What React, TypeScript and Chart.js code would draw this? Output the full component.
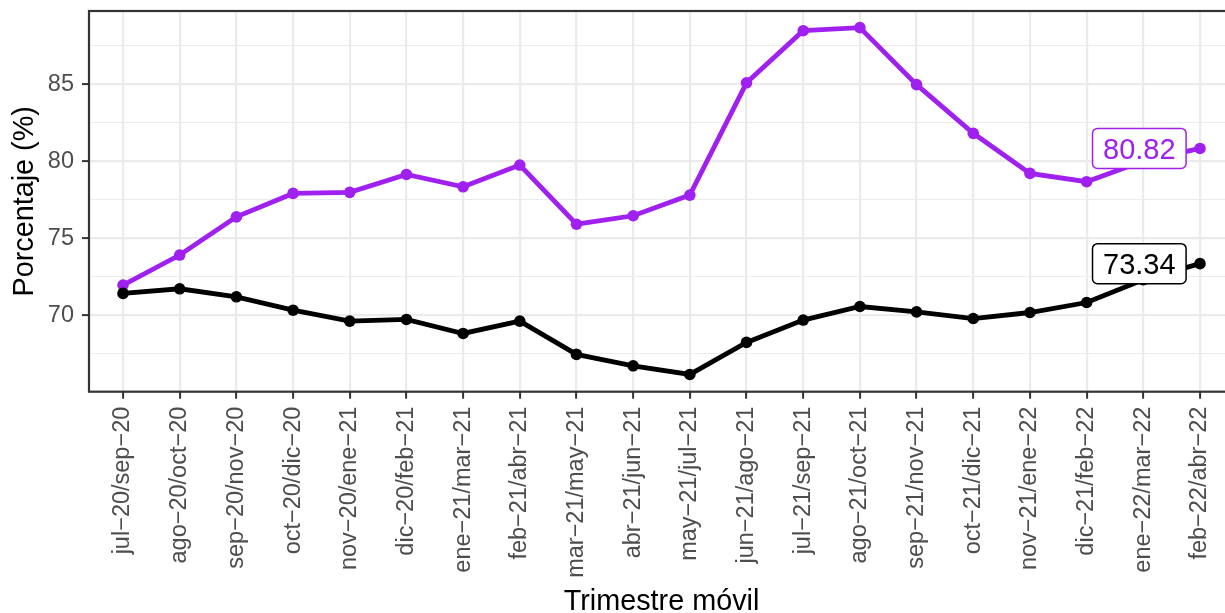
import { useEffect, useRef } from "react";
import { Chart, registerables } from "chart.js";

Chart.register(...registerables);

const categories = [
  "jul−20/sep−20",
  "ago−20/oct−20",
  "sep−20/nov−20",
  "oct−20/dic−20",
  "nov−20/ene−21",
  "dic−20/feb−21",
  "ene−21/mar−21",
  "feb−21/abr−21",
  "mar−21/may−21",
  "abr−21/jun−21",
  "may−21/jul−21",
  "jun−21/ago−21",
  "jul−21/sep−21",
  "ago−21/oct−21",
  "sep−21/nov−21",
  "oct−21/dic−21",
  "nov−21/ene−22",
  "dic−21/feb−22",
  "ene−22/mar−22",
  "feb−22/abr−22",
];

const blackValues = [
  71.41, 71.71, 71.19, 70.32, 69.61, 69.72, 68.81, 69.61, 67.45, 66.71,
  66.15, 68.23, 69.68, 70.56, 70.21, 69.78, 70.17, 70.82, 72.3, 73.34,
];

const purpleValues = [
  71.95, 73.9, 76.38, 77.9, 77.97, 79.13, 78.33, 79.74, 75.9, 76.45,
  77.79, 85.08, 88.46, 88.66, 84.96, 81.8, 79.2, 78.66, 80.0, 80.82,
];

const yTickValues = [67.5, 70, 72.5, 75, 77.5, 80, 82.5, 85, 87.5];

const FONT = "'Liberation Sans', Arial, Helvetica, sans-serif";
const PURPLE = "#A020F0";
const BLACK = "#000000";

const seriesForLabels = [blackValues, purpleValues];

const endLabels = {
  id: "endLabels",
  afterDatasetsDraw(chart: any) {
    const ctx = chart.ctx;
    const xs = chart.scales.x;
    const ys = chart.scales.y;
    const fs = 29;
    chart.data.datasets.forEach((ds: any, di: number) => {
      const arr = seriesForLabels[di];
      const v = arr[arr.length - 1];
      const text = v.toFixed(2);
      const cx = xs.getPixelForValue(arr.length - 2) - 4;
      const cy = ys.getPixelForValue(v);
      ctx.save();
      ctx.font = `${fs}px ${FONT}`;
      const tw = ctx.measureText(text).width;
      const w = tw + 21;
      const h = 40;
      ctx.beginPath();
      ctx.roundRect(cx - w / 2, cy - h / 2, w, h, 5);
      ctx.fillStyle = "#FFFFFF";
      ctx.fill();
      ctx.lineWidth = 1.5;
      ctx.strokeStyle = ds.borderColor;
      ctx.stroke();
      ctx.fillStyle = ds.borderColor;
      ctx.textAlign = "center";
      ctx.textBaseline = "alphabetic";
      ctx.fillText(text, cx, cy + 0.358 * fs);
      ctx.restore();
    });
    const a = chart.chartArea;
    ctx.save();
    ctx.strokeStyle = "#333333";
    ctx.lineWidth = 2.2;
    ctx.strokeRect(a.left, a.top, a.right - a.left, a.bottom - a.top);
    ctx.restore();
  },
};

export default function App() {
  const ref = useRef<HTMLCanvasElement | null>(null);

  useEffect(() => {
    document.body.style.overflow = "hidden";
    const canvas = ref.current;
    if (!canvas) return;
    const chart = new Chart(canvas, {
      type: "line",
      data: {
        datasets: [
          {
            label: "black",
            data: blackValues.map((v, i) => ({ x: i, y: v })) as any,
            borderColor: BLACK,
            backgroundColor: BLACK,
            borderWidth: 4.8,
            pointRadius: 5.8,
            pointBorderWidth: 0,
            pointBackgroundColor: BLACK,
            tension: 0,
          },
          {
            label: "purple",
            data: purpleValues.map((v, i) => ({ x: i, y: v })) as any,
            borderColor: PURPLE,
            backgroundColor: PURPLE,
            borderWidth: 4.8,
            pointRadius: 5.8,
            pointBorderWidth: 0,
            pointBackgroundColor: PURPLE,
            tension: 0,
          },
        ],
      },
      options: {
        animation: false,
        responsive: false,
        devicePixelRatio: 1,
        layout: { padding: { left: 0, right: 6, top: 11, bottom: 0 } },
        plugins: {
          legend: { display: false },
          tooltip: { enabled: false },
        },
        scales: {
          x: {
            type: "linear",
            min: -0.6,
            max: categories.length - 1 + 0.6,
            afterBuildTicks: (scale: any) => {
              scale.ticks = categories.map((_, i) => ({ value: i }));
            },
            afterFit: (scale: any) => {
              scale.height = 221.3;
              scale.paddingLeft = 0;
              scale.paddingRight = 0;
            },
            border: { display: false },
            grid: {
              color: "#EBEBEB",
              lineWidth: 2.2,
              tickColor: "#333333",
              tickLength: 7,
              tickWidth: 2,
            },
            ticks: {
              autoSkip: false,
              minRotation: 90,
              maxRotation: 90,
              padding: 8,
              color: "#4D4D4D",
              font: { family: FONT, size: 23.5 },
              callback: (v: any) => categories[v as number] ?? "",
            },
            title: {
              display: true,
              text: "Trimestre móvil",
              color: "#000000",
              font: { family: FONT, size: 28.8, lineHeight: 0.9 },
              padding: { top: 0, bottom: -2 },
            },
          },
          y: {
            type: "linear",
            min: 65.03,
            max: 89.74,
            afterBuildTicks: (scale: any) => {
              scale.ticks = yTickValues.map((v) => ({ value: v }));
            },
            afterFit: (scale: any) => {
              scale.width = 89;
              scale.paddingTop = 0;
              scale.paddingBottom = 0;
            },
            border: { display: false },
            grid: {
              color: "#EBEBEB",
              lineWidth: (ctx: any) =>
                ctx.tick && ctx.tick.value % 5 === 0 ? 2.2 : 1.1,
              tickColor: (ctx: any) =>
                ctx.tick && ctx.tick.value % 5 === 0
                  ? "#333333"
                  : "rgba(0,0,0,0)",
              tickLength: 7,
              tickWidth: 2,
            },
            ticks: {
              padding: 8,
              color: "#4D4D4D",
              font: { family: FONT, size: 23.5 },
              callback: (v: any) => (Number(v) % 5 === 0 ? String(v) : ""),
            },
            title: {
              display: true,
              text: "Porcentaje (%)",
              color: "#000000",
              font: { family: FONT, size: 28.8, lineHeight: 0.9 },
              padding: { top: 12.5, bottom: 0 },
            },
          },
        },
      },
      plugins: [endLabels],
    });
    return () => chart.destroy();
  }, []);

  return (
    <div
      style={{
        position: "fixed",
        left: 0,
        top: 0,
        width: 1240,
        height: 613,
        background: "#FFFFFF",
      }}
    >
      <canvas ref={ref} width={1240} height={613} />
    </div>
  );
}
